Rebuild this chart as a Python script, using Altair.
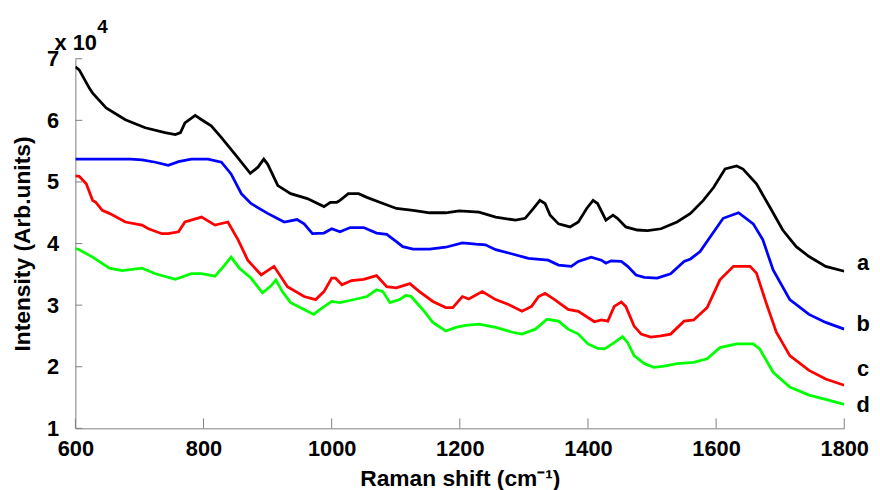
import altair as alt
import pandas as pd

# ---- data (Raman shift in cm-1, intensity in units of 1e4) ----
x_a = [600, 606, 622, 627, 648, 678, 709, 740, 756, 764,
       771, 787, 797, 812, 828, 849, 873, 885, 894, 900,
       916, 936, 962, 988, 998, 1008, 1013, 1026, 1042, 1055,
       1075, 1101, 1127, 1153, 1178, 1199, 1230, 1256, 1287, 1302,
       1315, 1325, 1333, 1341, 1354, 1372, 1385, 1398, 1408, 1415,
       1428, 1439, 1446, 1459, 1477, 1493, 1514, 1539, 1560, 1580,
       1596, 1614, 1632, 1642, 1663, 1684, 1704, 1725, 1745, 1771,
       1800]
y_a = [6.87, 6.82, 6.52, 6.44, 6.20, 6.01, 5.88, 5.80, 5.77, 5.80,
       5.96, 6.08, 6.01, 5.91, 5.72, 5.45, 5.14, 5.24, 5.37, 5.29,
       4.94, 4.81, 4.73, 4.60, 4.67, 4.67, 4.70, 4.81, 4.81, 4.75,
       4.67, 4.57, 4.54, 4.50, 4.50, 4.53, 4.51, 4.43, 4.38, 4.41,
       4.57, 4.70, 4.65, 4.46, 4.32, 4.27, 4.35, 4.57, 4.70, 4.65,
       4.38, 4.46, 4.41, 4.27, 4.22, 4.21, 4.24, 4.35, 4.49, 4.70,
       4.91, 5.21, 5.26, 5.21, 4.97, 4.59, 4.22, 3.95, 3.79, 3.63,
       3.55]

x_b = [600, 686, 704, 725, 745, 761, 781, 807, 828, 843,
       859, 874, 900, 926, 946, 957, 970, 988, 1000, 1013,
       1029, 1050, 1070, 1086, 1101, 1111, 1127, 1153, 1178, 1204,
       1225, 1240, 1256, 1282, 1307, 1338, 1354, 1374, 1385, 1405,
       1421, 1428, 1436, 1452, 1462, 1475, 1488, 1508, 1529, 1550,
       1560, 1575, 1591, 1611, 1635, 1658, 1673, 1689, 1715, 1745,
       1771, 1800]
y_b = [5.37, 5.37, 5.36, 5.32, 5.27, 5.33, 5.37, 5.37, 5.32, 5.13,
       4.81, 4.65, 4.49, 4.35, 4.39, 4.32, 4.16, 4.17, 4.24, 4.19,
       4.26, 4.26, 4.17, 4.15, 4.03, 3.95, 3.91, 3.91, 3.94, 4.01,
       3.99, 3.98, 3.90, 3.83, 3.76, 3.73, 3.65, 3.63, 3.71, 3.78,
       3.73, 3.68, 3.72, 3.71, 3.63, 3.49, 3.45, 3.44, 3.51, 3.71,
       3.75, 3.87, 4.11, 4.41, 4.50, 4.32, 4.06, 3.57, 3.09, 2.85,
       2.72, 2.61]

x_c = [600, 606, 617, 627, 632, 642, 653, 678, 704, 714,
       735, 745, 761, 771, 797, 818, 838, 854, 869, 890,
       910, 931, 957, 975, 988, 1000, 1006, 1016, 1031, 1050,
       1070, 1086, 1101, 1122, 1137, 1158, 1178, 1189, 1204, 1214,
       1235, 1256, 1276, 1297, 1312, 1323, 1333, 1348, 1369, 1385,
       1410, 1421, 1431, 1441, 1452, 1459, 1472, 1483, 1498, 1514,
       1529, 1550, 1565, 1586, 1606, 1627, 1653, 1663, 1678, 1694,
       1715, 1745, 1771, 1800]
y_c = [5.10, 5.09, 4.97, 4.70, 4.67, 4.54, 4.49, 4.35, 4.30, 4.24,
       4.16, 4.16, 4.19, 4.35, 4.43, 4.30, 4.35, 4.06, 3.73, 3.49,
       3.63, 3.30, 3.14, 3.09, 3.22, 3.44, 3.44, 3.33, 3.40, 3.42,
       3.48, 3.30, 3.28, 3.35, 3.22, 3.06, 2.96, 2.96, 3.14, 3.10,
       3.22, 3.09, 3.01, 2.90, 2.98, 3.14, 3.19, 3.09, 2.93, 2.90,
       2.73, 2.76, 2.74, 2.98, 3.05, 2.98, 2.66, 2.53, 2.48, 2.50,
       2.53, 2.74, 2.76, 2.96, 3.41, 3.63, 3.63, 3.52, 3.04, 2.56,
       2.18, 1.94, 1.80, 1.70]

x_d = [600, 606, 627, 653, 673, 704, 725, 756, 781, 797,
       818, 833, 843, 856, 874, 892, 905, 913, 923, 936,
       957, 972, 982, 1000, 1013, 1039, 1055, 1070, 1080, 1091,
       1106, 1116, 1124, 1142, 1158, 1178, 1194, 1209, 1230, 1256,
       1282, 1297, 1318, 1336, 1354, 1369, 1385, 1400, 1415, 1426,
       1441, 1454, 1462, 1472, 1488, 1503, 1519, 1539, 1565, 1586,
       1606, 1632, 1658, 1668, 1689, 1715, 1745, 1771, 1800]
y_d = [3.92, 3.90, 3.78, 3.60, 3.56, 3.60, 3.51, 3.42, 3.51, 3.51,
       3.47, 3.65, 3.78, 3.60, 3.44, 3.20, 3.31, 3.41, 3.22, 3.04,
       2.93, 2.85, 2.93, 3.06, 3.04, 3.10, 3.14, 3.25, 3.22, 3.04,
       3.09, 3.16, 3.14, 2.93, 2.72, 2.58, 2.64, 2.67, 2.69, 2.64,
       2.56, 2.53, 2.61, 2.77, 2.74, 2.61, 2.53, 2.37, 2.30, 2.29,
       2.39, 2.49, 2.39, 2.18, 2.05, 1.99, 2.01, 2.05, 2.07, 2.13,
       2.31, 2.37, 2.37, 2.29, 1.91, 1.67, 1.54, 1.47, 1.39]

series_names = ["a", "b", "c", "d"]
series_colors = ["#000000", "#0000ff", "#ff0000", "#00ff00"]
label_y = [3.69, 2.70, 1.97, 1.37]   # vertical position of the right-hand labels

x_ticks = [600, 800, 1000, 1200, 1400, 1600, 1800]
y_ticks = [1, 2, 3, 4, 5, 6, 7]

# ---- build tables ----
rows = []
for name, xs, ys in zip(series_names, [x_a, x_b, x_c, x_d], [y_a, y_b, y_c, y_d]):
    for xv, yv in zip(xs, ys):
        rows.append({"shift": xv, "intensity": yv, "series": name})
df = pd.DataFrame(rows)
df_labels = pd.DataFrame({"series": series_names, "ly": label_y, "lx": [1800] * 4})
df_xt = pd.DataFrame({"v": x_ticks})
df_yt = pd.DataFrame({"v": y_ticks})

FONT = "Liberation Sans"
W, H = 776, 373
xscale = alt.Scale(domain=[600, 1800], nice=False, zero=False)
yscale = alt.Scale(domain=[1, 7], nice=False, zero=False)
cscale = alt.Scale(domain=series_names, range=series_colors)

lines = alt.Chart(df).mark_line(strokeWidth=2.8, clip=True).encode(
    x=alt.X("shift:Q", scale=xscale,
            axis=alt.Axis(values=x_ticks, format="d", title="Raman shift (cm⁻¹)",
                          labelFlush=False, labelPadding=10, titlePadding=9)),
    y=alt.Y("intensity:Q", scale=yscale,
            axis=alt.Axis(values=y_ticks, format="d", title="Intensity (Arb.units)",
                          labelFlush=False, labelPadding=17, titlePadding=12)),
    color=alt.Color("series:N", scale=cscale, legend=None),
    order=alt.Order("shift:Q"),
)

xt = alt.Chart(df_xt).mark_rule(color="#808080", strokeWidth=1).encode(
    x=alt.X("v:Q", scale=xscale),
    y=alt.value(H), y2=alt.value(H - 10),
)
yt = alt.Chart(df_yt).mark_rule(color="#808080", strokeWidth=1).encode(
    y=alt.Y("v:Q", scale=yscale),
    x=alt.value(0), x2=alt.value(7),
)

labels = alt.Chart(df_labels).mark_text(
    font=FONT, fontSize=22, fontWeight="bold", align="center", baseline="middle", dx=19
).encode(
    x=alt.X("lx:Q", scale=xscale),
    y=alt.Y("ly:Q", scale=yscale),
    text="series:N",
    color=alt.value("black"),
)

mult = alt.Chart(df_labels.head(1)).mark_text(
    font=FONT, fontSize=22, fontWeight="bold", align="left", baseline="alphabetic"
).encode(x=alt.value(-21), y=alt.value(-9), text=alt.value("x 10"))
expo = alt.Chart(df_labels.head(1)).mark_text(
    font=FONT, fontSize=19, fontWeight="bold", align="left", baseline="alphabetic"
).encode(x=alt.value(22), y=alt.value(-26), text=alt.value("4"))

chart = alt.layer(lines, xt, yt, labels, mult, expo).properties(
    width=W, height=H,
    autosize=alt.AutoSizeParams(type="none"),
    padding={"left": 68, "top": 49, "right": 28, "bottom": 60},
).configure_view(stroke=None).configure_axis(
    grid=False, ticks=False, domainColor="#808080", domainWidth=1,
    labelFont=FONT, labelFontSize=22, labelFontWeight="bold", labelColor="black",
    titleFont=FONT, titleFontSize=23, titleFontWeight="bold", titleColor="black",
    labelOverlap=False,
)

chart.save("out.html", embed_options={"renderer": "svg", "actions": False})
